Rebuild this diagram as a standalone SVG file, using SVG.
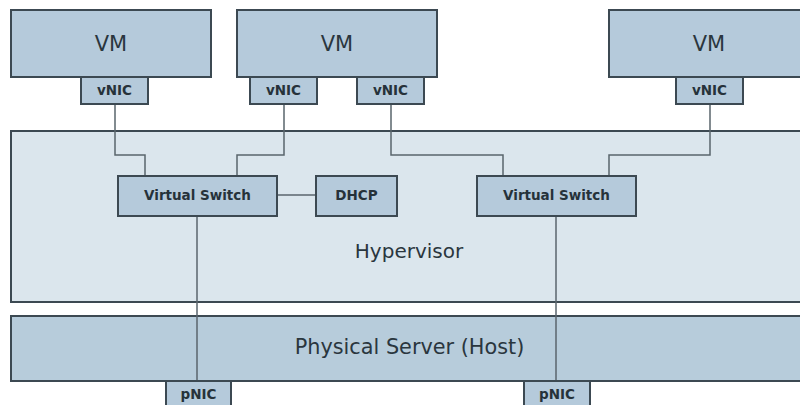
<svg xmlns="http://www.w3.org/2000/svg" width="800" height="405" viewBox="0 0 800 405">
<style>
.box{fill:#b5cadb;stroke:#3c4952;stroke-width:2}
.hyp{fill:#dbe6ed;stroke:#3c4952;stroke-width:2}
.phys{fill:#b7ccdb;stroke:#3c4952;stroke-width:2}
.big{font-family:"DejaVu Sans",Verdana,sans-serif;font-size:20px;fill:#2a363e;text-anchor:middle}
.vm{font-family:"DejaVu Sans",Verdana,sans-serif;font-size:21px;fill:#2a363e;text-anchor:middle}
.sm{font-family:"DejaVu Sans",Verdana,sans-serif;font-size:13.5px;font-weight:bold;fill:#26323a;text-anchor:middle}
.wire{fill:none;stroke:#5a656c;stroke-width:1.5}
</style>
<rect width="800" height="405" fill="#ffffff"/>
<g id="hypervisor">
<rect class="hyp" x="11" y="131" width="800" height="171"/>
<text class="big" x="409" y="258">Hypervisor</text>
</g>
<g id="physical-server">
<rect class="phys" x="11" y="316" width="800" height="65"/>
<text class="big" x="409.5" y="354" style="font-size:20.8px">Physical Server (Host)</text>
</g>
<g id="vm1">
<rect class="box" x="11" y="10" width="200" height="67"/>
<text class="vm" x="111" y="51">VM</text>
</g>
<g id="vm2">
<rect class="box" x="237" y="10" width="200" height="67"/>
<text class="vm" x="337" y="51">VM</text>
</g>
<g id="vm3">
<rect class="box" x="609" y="10" width="200" height="67"/>
<text class="vm" x="709" y="51">VM</text>
</g>
<g id="connectors">
<polyline class="wire" points="115,104 115,155 145,155 145,176"/>
<polyline class="wire" points="284,104 284,155 237,155 237,176"/>
<polyline class="wire" points="391,104 391,155 503,155 503,176"/>
<polyline class="wire" points="710,104 710,155 609,155 609,176"/>
<line class="wire" x1="277" y1="195" x2="316" y2="195"/>
<line class="wire" x1="197" y1="216" x2="197" y2="381"/>
<line class="wire" x1="556" y1="216" x2="556" y2="381"/>
</g>
<g id="vnic1">
<rect class="box" x="81" y="77" width="67" height="27"/>
<text class="sm" x="114.5" y="95">vNIC</text>
</g>
<g id="vnic2">
<rect class="box" x="250" y="77" width="67" height="27"/>
<text class="sm" x="283.5" y="95">vNIC</text>
</g>
<g id="vnic3">
<rect class="box" x="357" y="77" width="67" height="27"/>
<text class="sm" x="390.5" y="95">vNIC</text>
</g>
<g id="vnic4">
<rect class="box" x="676" y="77" width="67" height="27"/>
<text class="sm" x="709.5" y="95">vNIC</text>
</g>
<g id="vswitch1">
<rect class="box" x="118" y="176" width="159" height="40"/>
<text class="sm" x="197.5" y="200">Virtual Switch</text>
</g>
<g id="dhcp">
<rect class="box" x="316" y="176" width="81" height="40"/>
<text class="sm" x="356.5" y="200">DHCP</text>
</g>
<g id="vswitch2">
<rect class="box" x="477" y="176" width="159" height="40"/>
<text class="sm" x="556.5" y="200">Virtual Switch</text>
</g>
<g id="pnic1">
<rect class="box" x="166" y="381" width="65" height="30"/>
<text class="sm" x="198.5" y="399">pNIC</text>
</g>
<g id="pnic2">
<rect class="box" x="524" y="381" width="66" height="30"/>
<text class="sm" x="557" y="399">pNIC</text>
</g>
</svg>
